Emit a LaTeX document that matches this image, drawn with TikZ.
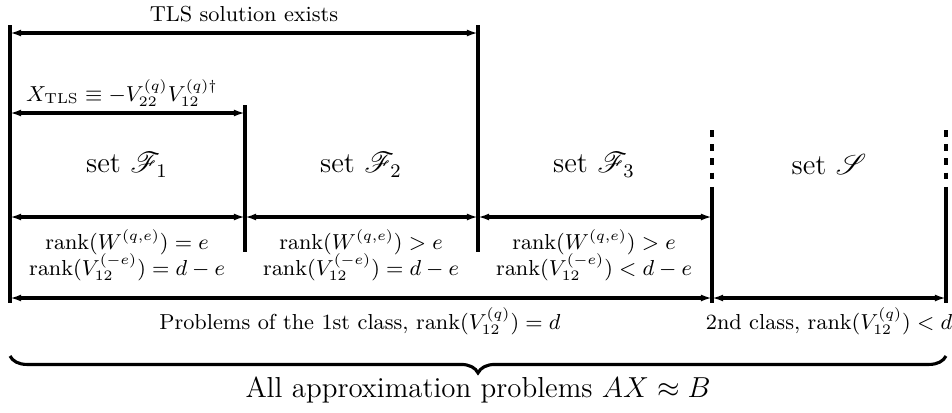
\documentclass[tikz,border=0pt]{standalone}
\usepackage{amsmath}
\usepackage{mathrsfs}
\usetikzlibrary{arrows.meta,decorations.pathreplacing}
\begin{document}
\begin{tikzpicture}[x=0.415pt,y=-0.415pt,
  bar/.style={line width=1.3pt},
  dbar/.style={line width=1.3pt, dash pattern=on 2.8pt off 3.1pt},
  span/.style={line width=1.3pt, {Latex[length=4.6pt,width=2.9pt]}-{Latex[length=4.6pt,width=2.9pt]}},
  lbl/.style={font=\small, inner sep=0pt},
  setlbl/.style={font=\large, inner sep=0pt}]
\useasboundingbox (0,0) rectangle (952,412);
% vertical bars
\coordinate (L0t) at (10,25);  \coordinate (L0b) at (10,303);
\coordinate (L1t) at (245,105); \coordinate (L1b) at (245,252);
\coordinate (L2t) at (478,25); \coordinate (L2b) at (478,252);
\coordinate (L3t) at (712,130); \coordinate (L3m) at (712,187); \coordinate (L3b) at (712,303);
\coordinate (L4t) at (946,130); \coordinate (L4m) at (946,187); \coordinate (L4b) at (946,303);
\draw[bar] (L0t) -- (L0b);
\draw[bar] (L1t) -- (L1b);
\draw[bar] (L2t) -- (L2b);
\draw[dbar] (L3t) -- (L3m);
\draw[bar] (L3m) -- (L3b);
\draw[dbar] (L4t) -- (L4m);
\draw[bar] (L4m) -- (L4b);
% arrow end points
\coordinate (t0) at (10,33);  \coordinate (t2) at (478,33);
\coordinate (x0) at (10,113); \coordinate (x1) at (245,113);
\coordinate (m0) at (10,217); \coordinate (m1) at (245,217);
\coordinate (m2) at (478,217); \coordinate (m3) at (712,217);
\coordinate (b0) at (10,298); \coordinate (b3) at (712,298);
\coordinate (b4) at (946,298);
\draw[span] (t0) -- (t2);
\draw[span] (x0) -- (x1);
\draw[span] (m0) -- (m1);
\draw[span] (m1) -- (m2);
\draw[span] (m2) -- (m3);
\draw[span] (b0) -- (b3);
\draw[span] (b3) -- (b4);
% brace
\coordinate (B0) at (10,356); \coordinate (B1) at (946,356);
\draw[line width=1.3pt, decorate, decoration={brace, mirror, amplitude=7pt}] (B0) -- (B1);
% labels
\node[lbl] (tls) at (244,14) {TLS solution exists};
\node[lbl] (xtls) at (122,93) {$X_{\mathrm{TLS}}\equiv -V_{22}^{(q)}V_{12}^{(q)\dagger}$};
\node[setlbl] (f1) at (127,165) {set $\mathscr{F}_1$};
\node[setlbl] (f2) at (361,165) {set $\mathscr{F}_2$};
\node[setlbl] (f3) at (594,165) {set $\mathscr{F}_3$};
\node[setlbl] (s) at (829,165) {set $\mathscr{S}$};
\node[lbl] (r1a) at (127,242) {$\operatorname{rank}(W^{(q,e)})=e$};
\node[lbl] (r1b) at (127,267) {$\operatorname{rank}(V_{12}^{(-e)})=d-e$};
\node[lbl] (r2a) at (361,242) {$\operatorname{rank}(W^{(q,e)})>e$};
\node[lbl] (r2b) at (361,267) {$\operatorname{rank}(V_{12}^{(-e)})=d-e$};
\node[lbl] (r3a) at (594,242) {$\operatorname{rank}(W^{(q,e)})>e$};
\node[lbl] (r3b) at (594,267) {$\operatorname{rank}(V_{12}^{(-e)})<d-e$};
\node[lbl] (c1) at (360,321) {Problems of the 1st class, $\operatorname{rank}(V_{12}^{(q)})=d$};
\node[lbl] (c2) at (829,321) {2nd class, $\operatorname{rank}(V_{12}^{(q)})<d$};
\node[font=\large, inner sep=0pt] (all) at (478,390) {All approximation problems $AX\approx B$};
\end{tikzpicture}
\end{document}
